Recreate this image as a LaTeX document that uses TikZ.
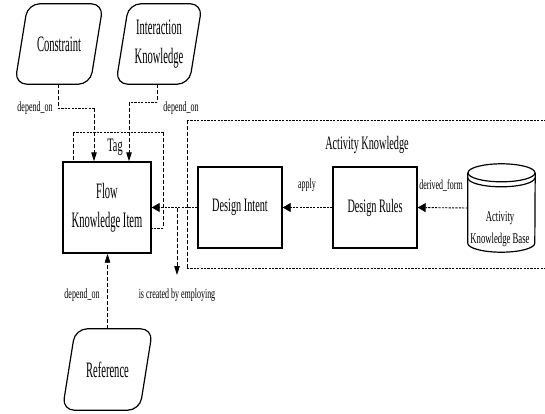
\documentclass[tikz,border=0pt]{standalone}
\usepackage{fontspec}
\setmainfont{Liberation Serif}
\newfontfamily\bigserif{Liberation Serif}[FakeStretch=0.48]
\newfontfamily\midserif{Liberation Serif}[FakeStretch=0.54]
\newfontfamily\baseserif{Liberation Serif}[FakeStretch=0.58]
\newfontfamily\smallserif{Liberation Serif}[FakeStretch=0.57]
\usetikzlibrary{arrows.meta,calc}

\begin{document}
\begin{tikzpicture}[x=1pt,y=1pt,
  big/.style={font=\bigserif\fontsize{22}{29}\selectfont, align=center},
  mid/.style={font=\midserif\fontsize{19}{24}\selectfont, align=center},
  base/.style={font=\baseserif\fontsize{15}{22}\selectfont, align=center},
  small/.style={font=\smallserif\fontsize{14}{16}\selectfont},
  boxed/.style={draw, line width=1.4pt, fill=white, inner sep=0pt},
  holder/.style={inner sep=0pt},
  outline/.style={line width=1.2pt, rounded corners=12pt},
  vdash/.style={line width=0.9pt, dash pattern=on 4pt off 2pt},
  hdash/.style={line width=0.9pt, dash pattern=on 2.2pt off 1.2pt},
  htip/.style={-{Triangle[length=8pt,width=9pt]}},
  vtip/.style={-{Triangle[length=9pt,width=5.5pt]}},
]
\useasboundingbox (0,0) rectangle (545,-414);

% --- slanted rounded source shapes ---
\node[holder, big, minimum width=88pt, minimum height=80pt] (cons) at (59,-44) {Constraint};
\draw[outline] ($(cons.north west)+(13,0)$) -- (cons.north east)
  -- ($(cons.south east)+(-13,0)$) -- (cons.south west) -- cycle;

\node[holder, big, minimum width=86pt, minimum height=80pt] (inter) at (159,-44) {Interaction\\Knowledge};
\draw[outline] ($(inter.north west)+(13,0)$) -- (inter.north east)
  -- ($(inter.south east)+(-13,0)$) -- (inter.south west) -- cycle;

\node[holder, big, minimum width=90pt, minimum height=81pt] (ref) at (107.5,-369.5) {Reference};
\draw[outline] ($(ref.north west)+(13,0)$) -- (ref.north east)
  -- ($(ref.south east)+(-13,0)$) -- (ref.south west) -- cycle;

% --- tag frame behind the flow item ---
\coordinate (tagNW) at (73,-132);
\coordinate (tagSE) at (163,-228);
\draw[hdash] (tagNW) -- (tagNW -| tagSE);
\draw[vdash] (tagNW) -- (73,-162);
\draw[vdash] (tagNW -| tagSE) -- (tagSE);
\draw[hdash] (tagSE) -- (151,-228);
\node[mid] (tag) at (115,-147) {Tag};

\node[boxed, big, minimum width=88pt, minimum height=91pt] (flow) at (107,-207.5) {Flow\\Knowledge Item};

% --- activity knowledge frame ---
\draw[hdash] (187,-120) -- (545,-120);
\draw[vdash] (187,-120) -- (187,-268);
\draw[hdash] (187,-268) -- (545,-268);
\node[mid] (actitle) at (367,-145) {Activity Knowledge};

\node[boxed, mid, minimum width=84pt, minimum height=81pt] (intent) at (240,-207.5) {Design Intent};
\node[boxed, mid, minimum width=84pt, minimum height=81pt] (rules) at (375,-207.5) {Design Rules};

% --- knowledge base cylinder ---
\node[holder, minimum width=67pt, minimum height=88pt] (cyl) at (501.5,-208) {};
\draw[line width=1.2pt, fill=white]
  ($(cyl.north west)+(0,-9)$) -- ($(cyl.south west)+(0,9)$)
  arc[start angle=180, end angle=360, x radius=33.5pt, y radius=9pt]
  -- ($(cyl.north east)+(0,-9)$);
\draw[line width=1.2pt] ($(cyl.north)+(0,-9)$) ellipse[x radius=33.5pt, y radius=9pt];
\draw[line width=1.2pt] ($(cyl.north west)+(0,-14)$)
  arc[start angle=180, end angle=360, x radius=33.5pt, y radius=9pt];
\node[base] (akb) at (500,-229) {Activity\\Knowledge Base};

% --- connectors ---
\coordinate (inA) at ($(flow.north)+(-13,0)$);
\coordinate (inB) at ($(flow.north)+(22,0)$);

\draw[vdash] ($(cons.south)+(-1,0)$) -- ++(0,-24) coordinate (c1);
\draw[hdash] (c1) -- (c1 -| inA);
\draw[vdash, vtip] (c1 -| inA) -- (inA);
\node[small] (dep1) at (35,-108) {depend\_on};

\draw[vdash] ($(inter.south)+(-2,0)$) -- ++(0,-18) coordinate (i1);
\draw[hdash] (i1) -- (i1 -| inB);
\draw[vdash, vtip] (i1 -| inB) -- (inB);
\node[small] (dep2) at (181,-108) {depend\_on};

\draw[vdash, vtip] (ref.north) -- (ref.north |- flow.south);
\node[small] (dep3) at (82,-295) {depend\_on};

\draw[hdash, htip] (cyl.west) -- (rules.east);
\node[small] (derived) at (441,-185) {derived\_form};

\draw[hdash, htip] (rules.west) -- (intent.east);
\node[small] (apply) at (307,-185) {apply};

\draw[hdash, htip] (intent.west) -- (flow.east);

\coordinate (emp) at (177,-208);
\coordinate (empEnd) at (177,-275);
\draw[vdash, vtip] (emp) -- (empEnd);
\node[small] (employ) at (177,-295) {is created by employing};
\end{tikzpicture}
\end{document}
